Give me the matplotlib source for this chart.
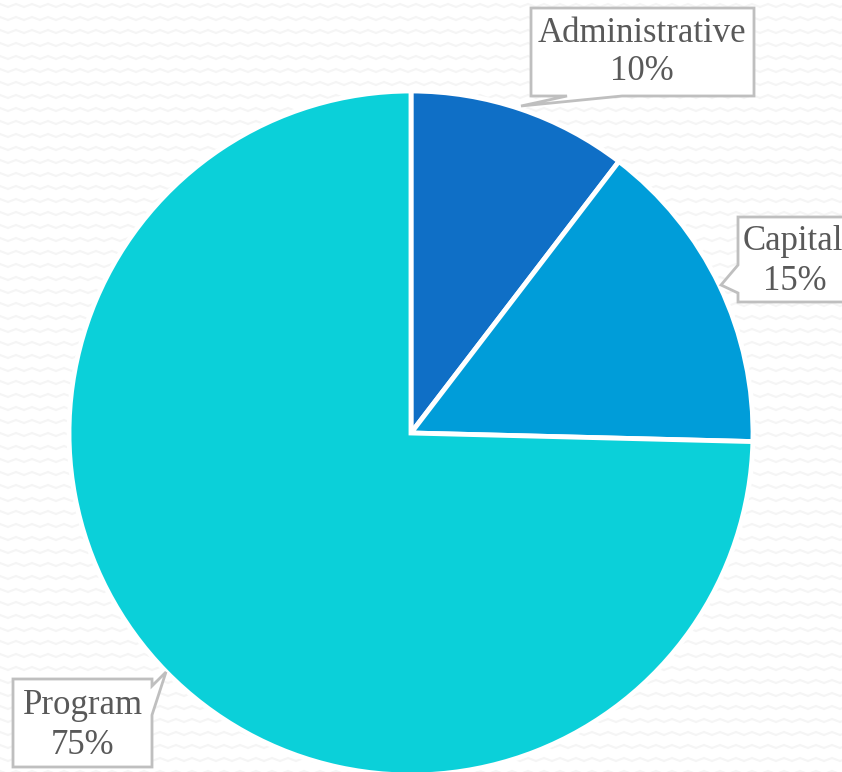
import matplotlib
matplotlib.use("Agg")
import matplotlib.pyplot as plt
import numpy as np
from matplotlib.patches import Polygon

categories = ["Administrative", "Capital", "Program"]
values = [10.4, 15.0, 74.6]
pct_labels = ["10%", "15%", "75%"]
colors = ["#0F6FC6", "#009DD9", "#0BD0D9"]

W, H = 842, 772
fig = plt.figure(figsize=(W / 100, H / 100), dpi=100)
fig.patch.set_facecolor("white")
ax = fig.add_axes([0, 0, 1, 1])
ax.set_xlim(0, W)
ax.set_ylim(0, H)
ax.set_aspect("equal")
ax.axis("off")

# subtle zigzag background texture
period, amp, row = 16, 3.0, 13
xs = np.arange(-period, W + period, period / 2)
for y0 in np.arange(4, H + row, row):
    ys = H - (y0 + np.where((np.arange(len(xs)) % 2) == 0, 0, amp))
    ax.plot(xs, ys, color="#f5f5f5", lw=1.5, zorder=0, solid_joinstyle="miter")

cx, cy, r = 411, H - 433, 342
wedges, _ = ax.pie(values, colors=colors, startangle=90, counterclock=False,
                   center=(cx, cy), radius=r, frame=True,
                   wedgeprops=dict(edgecolor="white", linewidth=3.5))
ax.set_xlim(0, W)
ax.set_ylim(0, H)
ax.axis("off")

def callout(box, tip, base, side):
    x0, y0, x1, y1 = box  # image coords (top-left, bottom-right)
    b0, b1 = base
    if side == "bottom":
        pts = [(x0, y0), (x1, y0), (x1, y1), (b1, y1), tip, (b0, y1), (x0, y1)]
    elif side == "left":
        pts = [(x0, y0), (x1, y0), (x1, y1), (x0, y1), (x0, b1), tip, (x0, b0)]
    else:  # right
        pts = [(x0, y0), (x1, y0), (x1, b0), tip, (x1, b1), (x1, y1), (x0, y1)]
    pts = [(px, H - py) for px, py in pts]
    ax.add_patch(Polygon(pts, closed=True, facecolor="white", edgecolor="#BFBFBF",
                         lw=2, zorder=5, joinstyle="miter"))

font = dict(family=["Liberation Serif", "DejaVu Serif"], color="#595959",
            fontsize=25, ha="center", va="center", zorder=6)

callout((531, 8, 754, 96), (521, 106), (567, 622), "bottom")
ax.text(642, H - 33, categories[0], **font)
ax.text(642, H - 72, pct_labels[0], **font)

callout((738, 217, 860, 302), (721, 285), (265, 293), "left")
ax.text(793, H - 242, categories[1], **font)
ax.text(795, H - 281, pct_labels[1], **font)

callout((13, 679, 152, 767), (166, 672), (686, 715), "right")
ax.text(83, H - 705, categories[2], **font)
ax.text(83, H - 745, pct_labels[2], **font)

fig.savefig("out.png", dpi=100, facecolor=fig.get_facecolor())
